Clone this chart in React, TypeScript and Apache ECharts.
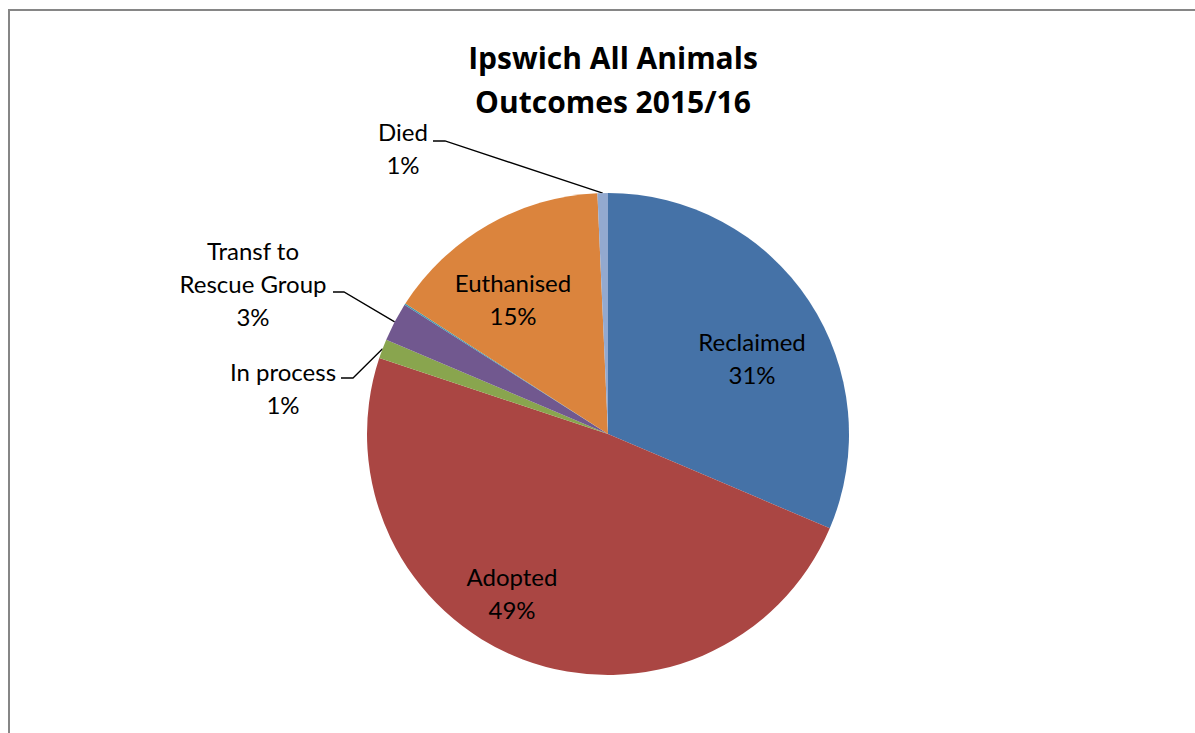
import React, { useEffect, useRef } from 'react';
import * as echarts from 'echarts';

const categories = ['Reclaimed', 'Adopted', 'In process', 'Transf to Rescue Group', 'Other', 'Euthanised', 'Died'];
const values = [31.4, 48.7, 1.3, 2.6, 0.1, 15.2, 0.7];
const colors = ['#4572A7', '#AA4643', '#89A54E', '#71588F', '#4198AF', '#DB843D', '#93A9CF'];
const titleLines = ['Ipswich All Animals', 'Outcomes 2015/16'];

// layout (not data): pie geometry and label placements relative to the pie centre
const CX = 608;
const CY = 434;
const R = 241;
type Place = { dx: number; dy: number; inside: boolean; elbow?: [number, number]; end?: [number, number]; text?: string };
const labelPlace: Record<string, Place> = {
  'Reclaimed': { dx: 144, dy: -76, inside: true },
  'Adopted': { dx: -96, dy: 159, inside: true },
  'Euthanised': { dx: -95, dy: -135, inside: true },
  'Died': { dx: -205, dy: -286, inside: false, elbow: [-163, -293], end: [-175, -293] },
  'Transf to Rescue Group': { dx: -355, dy: -151, inside: false, elbow: [-264, -142], end: [-275, -142], text: 'Transf to\nRescue Group\n{d}%' },
  'In process': { dx: -325, dy: -46, inside: false, elbow: [-255, -56], end: [-267, -56] },
};

const FONT = 'Lato, "Noto Sans", sans-serif';
const TITLE_FONT = '"Open Sans", Lato, sans-serif';

export default function App() {
  const ref = useRef<HTMLDivElement>(null);
  useEffect(() => {
    if (!ref.current) return;
    const chart = echarts.init(ref.current, undefined, { renderer: 'svg' });
    const total = values.reduce((a, b) => a + b, 0);
    const midAngles: number[] = [];
    let cum = 0;
    values.forEach((v) => {
      midAngles.push(((cum + v / 2) / total) * Math.PI * 2);
      cum += v;
    });

    const data = categories.map((name, i) => {
      const p = labelPlace[name];
      return {
        name,
        value: values[i],
        itemStyle: { color: colors[i] },
        label: p
          ? { show: true, position: p.inside ? 'inside' : 'outside', formatter: p.text || '{b}\n{d}%' }
          : { show: false },
        labelLine: { show: !!(p && !p.inside) },
      };
    });

    chart.setOption({
      animation: false,
      backgroundColor: '#ffffff',
      title: {
        text: titleLines.join('\n'),
        left: CX,
        textAlign: 'center',
        top: 30,
        textStyle: { fontFamily: TITLE_FONT, fontWeight: 'bold', fontSize: 30, lineHeight: 44, color: '#000' },
      },
      graphic: [
        {
          type: 'rect',
          shape: { x: 9, y: 10, width: 1200, height: 740 },
          style: { fill: 'none', stroke: '#868686', lineWidth: 2 },
          silent: true,
        },
      ],
      series: [
        {
          type: 'pie',
          center: [CX, CY],
          radius: [0, R],
          startAngle: 90,
          clockwise: true,
          percentPrecision: 0,
          avoidLabelOverlap: false,
          itemStyle: { borderWidth: 0 },
          label: { fontFamily: FONT, fontSize: 24, lineHeight: 33, color: '#000', align: 'center' },
          labelLine: { lineStyle: { color: '#000', width: 1.3 }, length: 10, length2: 10 },
          emphasis: { disabled: true },
          data,
          labelLayout: (params: any) => {
            const name = categories[params.dataIndex];
            const p = labelPlace[name];
            if (!p) return {};
            const out: any = { x: CX + p.dx, y: CY + p.dy, align: 'center', verticalAlign: 'middle' };
            if (!p.inside && p.elbow && p.end) {
              const a = midAngles[params.dataIndex];
              out.labelLinePoints = [
                [CX + R * Math.sin(a), CY - R * Math.cos(a)],
                [CX + p.elbow[0], CY + p.elbow[1]],
                [CX + p.end[0], CY + p.end[1]],
              ];
            }
            return out;
          },
        },
      ],
    });
    return () => chart.dispose();
  }, []);
  return <div ref={ref} style={{ position: 'absolute', left: 0, top: 0, width: 1195, height: 733 }} />;
}
